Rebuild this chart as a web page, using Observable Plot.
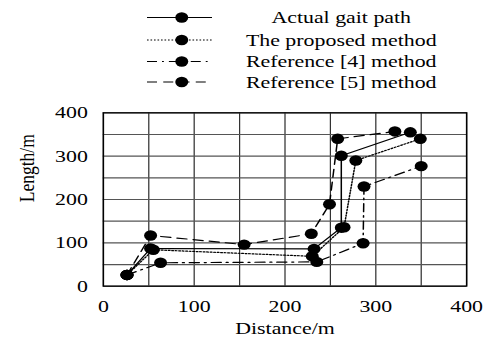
<!DOCTYPE html>
<html><head><meta charset="utf-8">
<script src="https://cdn.jsdelivr.net/npm/d3@7"></script>
<script src="https://cdn.jsdelivr.net/npm/@observablehq/plot@0.6"></script>
<style>
html,body{margin:0;padding:0;background:#fff;}
#wrap{width:388px;transform:scaleX(1.25);transform-origin:0 0;font-family:"Liberation Serif","Times New Roman",serif;}
svg{display:block}
</style></head><body><div id="wrap"></div>
<script>
const seriesNames = ["Actual gait path", "The proposed method", "Reference [4] method", "Reference [5] method"];
const actualX   = [26, 52, 232, 262, 262, 338];
const actualY   = [26, 87, 86, 135, 301, 355];
const proposedX = [26, 55, 230, 265, 278, 349];
const proposedY = [26, 84, 69, 136, 290, 340];
const ref4X     = [26, 63, 235, 286, 287, 350];
const ref4Y     = [26, 54, 56, 99, 230, 277];
const ref5X     = [26, 52, 155, 229, 249, 258, 321];
const ref5Y     = [26, 117, 96, 121, 189, 340, 357];
const xTicks = [0, 100, 200, 300, 400];
const yTicks = [0, 100, 200, 300, 400];
const gridValues = [0, 50, 100, 150, 200, 250, 300, 350, 400];
const dashes = [null, "1.3,1.5", "8,4,1.5,4", "8,5"];

const seriesXY = [[actualX, actualY], [proposedX, proposedY], [ref4X, ref4Y], [ref5X, ref5Y]];
const rows = seriesXY.map(([xs, ys], i) => xs.map((x, j) => ({series: seriesNames[i], x, y: ys[j]})));
const allPts = rows.flat();

const FONT = '"Liberation Serif","Times New Roman",serif';
const FS = 17.5;
const wrap = document.getElementById("wrap");

// Legend above the chart
const legW = 388, legH = 95;
const leg = d3.select(wrap).append("svg").attr("width", legW).attr("height", legH)
  .style("font-family", FONT).style("font-size", FS + "px");
const legY = [17.5, 40, 61.5, 82];
seriesNames.forEach((name, i) => {
  const g = leg.append("g").attr("transform", `translate(0,${legY[i]})`);
  const ln = g.append("line").attr("x1", 117.6).attr("x2", 169.6).attr("y1", 0).attr("y2", 0)
    .attr("stroke", "black").attr("stroke-width", 1.2);
  if (dashes[i]) ln.attr("stroke-dasharray", dashes[i]);
  g.append("circle").attr("cx", 145.4).attr("cy", 0).attr("r", 5.2).attr("fill", "black");
  g.append("text").attr("x", 273).attr("y", 0).attr("dy", "0.33em").attr("text-anchor", "middle")
    .attr("fill", "black").text(name);
});

const lineMarks = rows.map((data, i) => Plot.line(data, {
  x: "x", y: "y", stroke: "black", strokeWidth: 1.2,
  ...(dashes[i] ? {strokeDasharray: dashes[i]} : {})
}));

const chart = Plot.plot({
  width: 388,
  height: 243,
  marginLeft: 82.2,
  marginRight: 15.2,
  marginTop: 17.3,
  marginBottom: 52.3,
  style: {fontFamily: FONT, fontSize: FS + "px", background: "white", color: "black"},
  x: {domain: [0, 400]},
  y: {domain: [0, 400]},
  marks: [
    Plot.ruleX(gridValues, {stroke: "#333", strokeWidth: 1}),
    Plot.ruleY(gridValues, {stroke: "#555", strokeWidth: 1.2}),
    Plot.frame({stroke: "black", strokeWidth: 1.2}),
    ...lineMarks,
    Plot.dot(allPts, {x: "x", y: "y", r: 5.2, fill: "black", stroke: "none"}),
    Plot.axisX(xTicks, {tickSize: 0, tickPadding: 13, fontSize: FS, label: null}),
    Plot.axisY(yTicks, {tickSize: 0, tickPadding: 12.4, fontSize: FS, label: null}),
    Plot.text(["Distance/m"], {frameAnchor: "bottom", dy: 47.5, fontSize: FS, fill: "black"}),
    Plot.text(["Length/m"], {frameAnchor: "left", dx: -61.5, dy: 2.7, rotate: -90, fontSize: FS, fill: "black"})
  ]
});
wrap.appendChild(chart);
</script></body></html>
